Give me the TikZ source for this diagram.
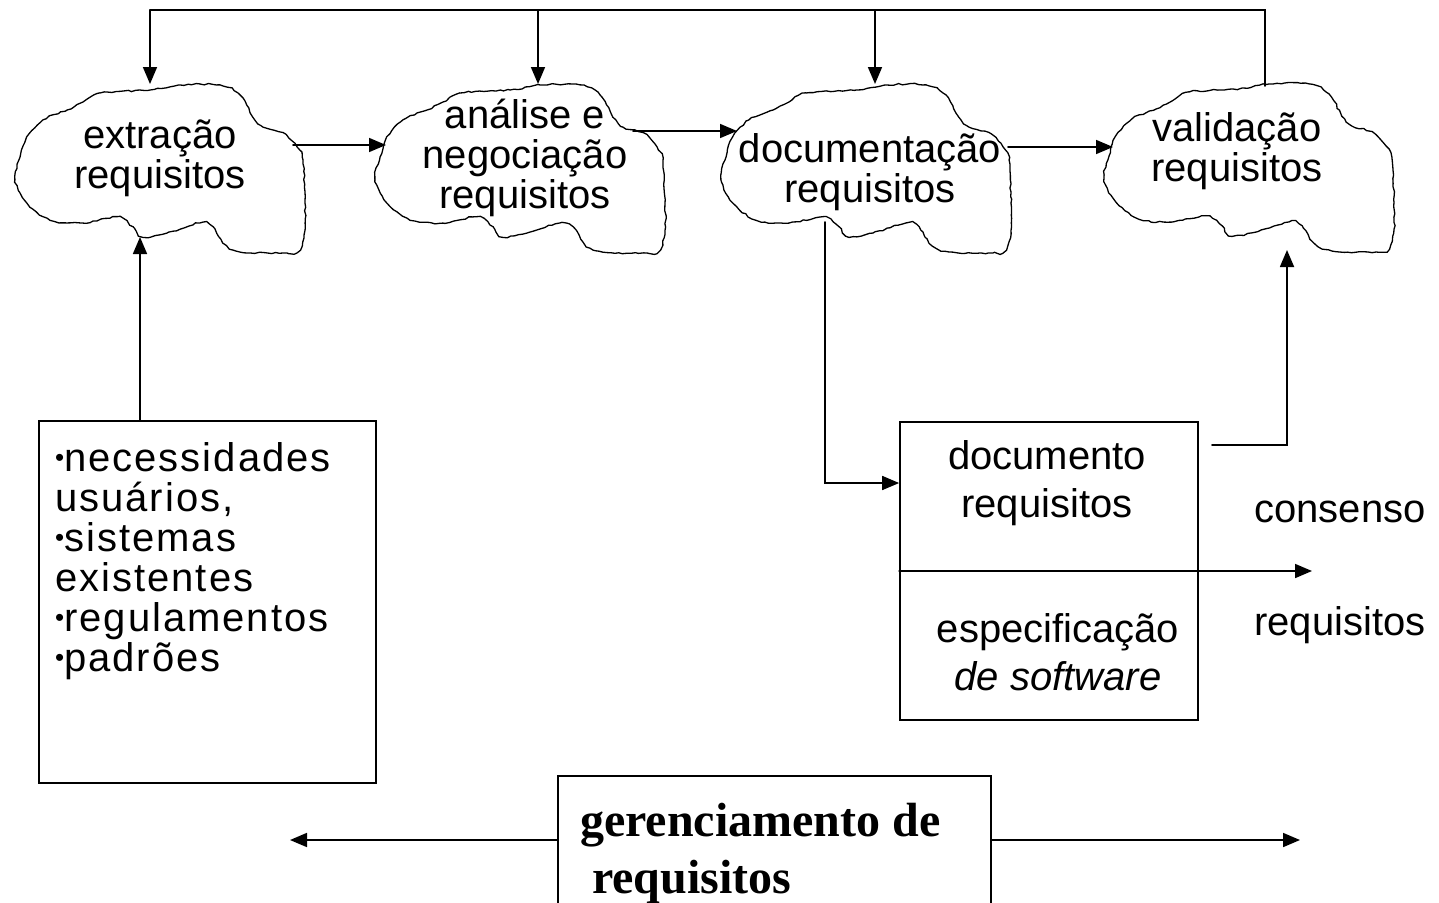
\documentclass[tikz,border=0pt]{standalone}
\usepackage{fontspec}
\setmainfont{Liberation Sans}
\newfontfamily\spacedsans{Liberation Sans}[LetterSpace=5]
\newfontfamily\timesbf{Liberation Serif}[BoldFont={Liberation Serif Bold}]
\usetikzlibrary{arrows.meta,decorations.pathmorphing}

\begin{document}
\begin{tikzpicture}[x=1pt, y=-1pt, line cap=round]

    % page frame, one unit is one pixel of the sketch
    \useasboundingbox (0,0) rectangle (1439,902);

    % Styles
    \tikzstyle{wire}=[line width=1.7pt]
    \tikzstyle{flow}=[wire, -{Triangle[length=17pt,width=14pt]}]
    \tikzstyle{cloudtext}=[font=\fontsize{40}{40}\selectfont, align=center, inner sep=0pt]
    \tikzstyle{doctext}=[font=\fontsize{40}{48}\selectfont, align=center, inner sep=0pt]
    \tikzstyle{frame}=[draw, wire, inner sep=0pt]
    \tikzset{cloud/.pic={
        \draw[line width=1.3pt, decorate,
              decoration={random steps, segment length=4pt, amplitude=0.8pt}]
            plot[smooth cycle, tension=0.55] coordinates {
            (-77,-67) (-60,-76) (-10,-79) (20,-84) (60,-84) (80,-74)
            (93,-52) (103,-42) (123,-36) (137,-22) (143,-9) (145,34)
            (145,61) (140,81) (127,84) (73,81) (53,58) (40,54)
            (7,64) (-17,68) (-27,58) (-43,48) (-77,54) (-110,51)
            (-133,34) (-145,11) (-140,-12) (-133,-32) (-117,-49) (-93,-59)};
    }}

    % small bullet of the list
    \def\blt{\raisebox{5pt}{\fontsize{26}{26}\selectfont•}}

    % the four clouds
    \pic at (160,169) {cloud};
    \pic at (520,169) {cloud};
    \pic at (866,169) {cloud};
    \pic at (1249,168) {cloud};

    \node[cloudtext] (extr) at (160,158) {extração\\requisitos};
    \node[cloudtext] (anal) at (525,158) {análise e\\negociação\\requisitos};
    \node[cloudtext] (docu) at (870,172) {documentação\\requisitos};
    \node[cloudtext] (vali) at (1237,151) {validação\\requisitos};

    % points on the cloud outlines
    \coordinate (n1) at (150,84);
    \coordinate (n2) at (538,84);
    \coordinate (n3) at (875,84);
    \coordinate (n4) at (1265,86);
    \coordinate (e1) at (293,145);
    \coordinate (w2) at (386,145);
    \coordinate (e2) at (633,131);
    \coordinate (w3) at (737,131);
    \coordinate (e3) at (1008,147);
    \coordinate (w4) at (1113,147);
    \coordinate (s1) at (140,237);
    \coordinate (s3) at (825,222);
    \coordinate (s4) at (1287,250);

    % feedback bar on top
    \coordinate (t1) at (150,10);
    \draw[wire] (n4) |- (t1);
    \draw[flow] (t1) -- (n1);
    \draw[flow] (n2 |- t1) -- (n2);
    \draw[flow] (n3 |- t1) -- (n3);

    % main sequence
    \draw[flow] (e1) -- (w2);
    \draw[flow] (e2) -- (w3);
    \draw[flow] (e3) -- (w4);

    % sources box
    \node[frame, minimum width=337, minimum height=362, anchor=north west]
        (fontes) at (38,420) {};
    \node[cloudtext, font=\spacedsans\fontsize{40}{40}\selectfont, align=left,
        anchor=north west] (lista) at (55,442)
        {\blt necessidades\\usuários,\\\blt sistemas\\existentes\\\blt regulamentos\\\blt padrões};
    \draw[flow] (fontes.north -| s1) -- (s1);

    % requirements document
    \node[frame, minimum width=298, minimum height=298] (docbox) at (1049,571) {};
    \node[doctext] (doctop) at (1047,483) {documento\\requisitos};
    \node[doctext] (docbot) at (1058,652) {especificação\\\textit{de software}};
    \coordinate (docout) at (1212,445);
    \coordinate (consarrow) at (1312,571);
    \draw[flow] (s3) |- ([yshift=88pt]docbox.west);
    \draw[flow] (docout) -| (s4);
    \draw[flow] (docbox.west) -- (consarrow);

    % agreed requirements
    \node[cloudtext] (cons) at (1340,512) {consenso};
    \node[cloudtext] (consreq) at (1340,625) {requisitos};

    % requirements management
    \node[frame, minimum width=433, minimum height=160, anchor=north west]
        (geren) at (557,775) {};
    \node[font=\timesbf\bfseries\fontsize{48}{57}\selectfont, align=left,
        inner sep=0pt, anchor=north west] (gerentext) at (580,803)
        {gerenciamento de\\\hspace*{12pt}requisitos};
    \coordinate (gl) at (290,840);
    \coordinate (gr) at (1300,840);
    \draw[flow] (geren.west |- gl) -- (gl);
    \draw[flow] (geren.east |- gr) -- (gr);

\end{tikzpicture}
\end{document}
